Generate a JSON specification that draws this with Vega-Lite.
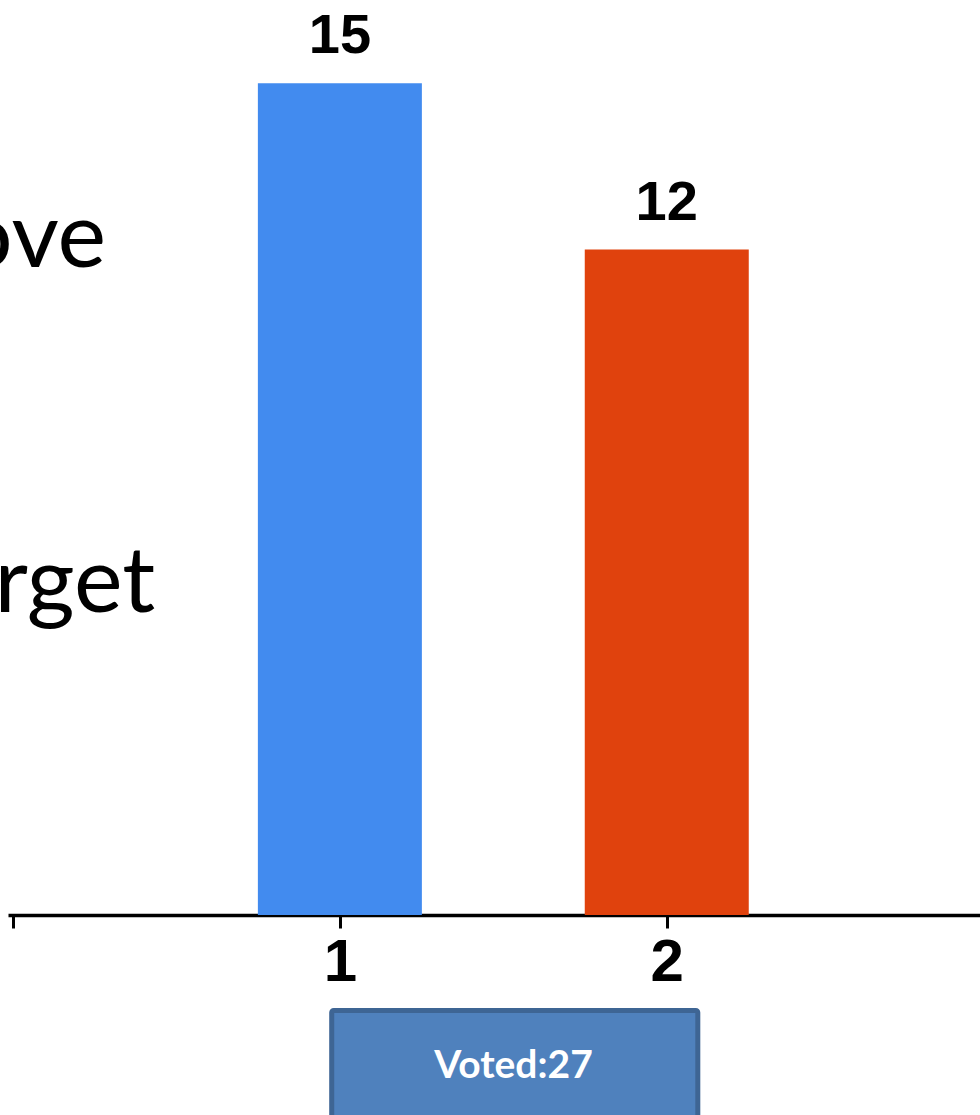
{
  "$schema": "https://vega.github.io/schema/vega-lite/v6.json",
  "width": 972,
  "height": 915,
  "autosize": {"type": "none"},
  "padding": {"left": 8, "top": 0, "right": 0, "bottom": 200},
  "background": "white",
  "config": {
    "view": {"stroke": null},
    "axisX": {
      "title": null,
      "grid": false,
      "domainColor": "black",
      "domainWidth": 3.5,
      "tickColor": "black",
      "tickWidth": 3,
      "tickSize": 13,
      "labelFont": "Liberation Sans",
      "labelFontWeight": "bold",
      "labelFontSize": 60,
      "labelColor": "black",
      "labelPadding": 5,
      "labelFlush": false,
      "labelOverlap": false
    }
  },
  "data": {
    "values": [
      {"option": 1, "votes": 15},
      {"option": 2, "votes": 12}
    ]
  },
  "layer": [
    {
      "mark": {"type": "bar", "size": 164},
      "encoding": {
        "x": {
          "field": "option",
          "type": "quantitative",
          "scale": {"domain": [0, 2.943], "nice": false, "zero": true},
          "axis": {
            "values": [0, 1, 2],
            "format": "d",
            "labelExpr": "datum.value == 0 ? '' : datum.label"
          }
        },
        "y": {
          "field": "votes",
          "type": "quantitative",
          "scale": {"domain": [0, 16.5], "nice": false},
          "axis": null
        },
        "color": {
          "field": "option",
          "type": "nominal",
          "scale": {"domain": [1, 2], "range": ["#428BEF", "#E0420D"]},
          "legend": null
        }
      }
    },
    {
      "mark": {
        "type": "text",
        "baseline": "alphabetic",
        "align": "center",
        "dy": -30,
        "font": "Liberation Sans",
        "fontWeight": "bold",
        "fontSize": 56,
        "color": "black"
      },
      "encoding": {
        "x": {"field": "option", "type": "quantitative"},
        "y": {"field": "votes", "type": "quantitative", "axis": null},
        "text": {"field": "votes", "type": "quantitative"}
      }
    },
    {
      "transform": [
        {"aggregate": [{"op": "sum", "field": "votes", "as": "total"}]}
      ],
      "mark": {
        "type": "rect",
        "fill": "#4F81BD",
        "stroke": "#3E6594",
        "strokeWidth": 5,
        "cornerRadius": 2
      },
      "encoding": {
        "x": {"datum": 0.975, "type": "quantitative"},
        "x2": {"datum": 2.095},
        "y": {"datum": -1.72, "type": "quantitative", "axis": null},
        "y2": {"datum": -4.0}
      }
    },
    {
      "transform": [
        {"aggregate": [{"op": "sum", "field": "votes", "as": "total"}]},
        {"calculate": "'Voted:' + datum.total", "as": "caption"}
      ],
      "mark": {
        "type": "text",
        "align": "center",
        "baseline": "alphabetic",
        "font": "Lato",
        "fontWeight": "bold",
        "fontSize": 39,
        "color": "white"
      },
      "encoding": {
        "x": {"datum": 1.531, "type": "quantitative"},
        "y": {"datum": -2.94, "type": "quantitative", "axis": null},
        "text": {"field": "caption", "type": "nominal"}
      }
    },
    {
      "data": {"values": [{"word": "Above"}]},
      "mark": {
        "type": "text",
        "align": "right",
        "baseline": "alphabetic",
        "font": "Lato",
        "fontSize": 92,
        "color": "black"
      },
      "encoding": {
        "x": {"datum": 0.285, "type": "quantitative"},
        "y": {"datum": 11.69, "type": "quantitative", "axis": null},
        "text": {"field": "word", "type": "nominal"}
      }
    },
    {
      "data": {"values": [{"word": "Target"}]},
      "mark": {
        "type": "text",
        "align": "right",
        "baseline": "alphabetic",
        "font": "Lato",
        "fontSize": 92,
        "color": "black"
      },
      "encoding": {
        "x": {"datum": 0.435, "type": "quantitative"},
        "y": {"datum": 5.46, "type": "quantitative", "axis": null},
        "text": {"field": "word", "type": "nominal"}
      }
    }
  ]
}
